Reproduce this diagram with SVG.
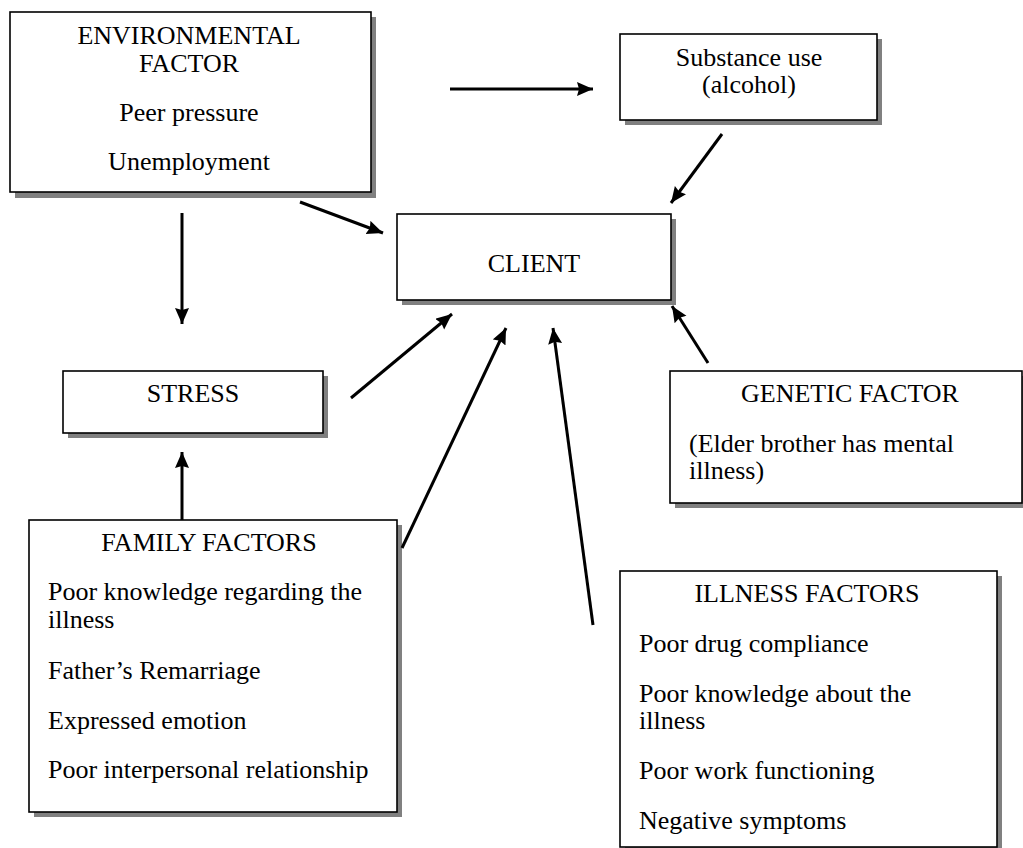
<svg xmlns="http://www.w3.org/2000/svg" width="1023" height="848" viewBox="0 0 1023 848">
<defs>
<marker id="ah" markerUnits="userSpaceOnUse" markerWidth="17" markerHeight="15" refX="16" refY="7" orient="auto">
<path d="M0,0 L16,7 L0,14 L2,7 z" fill="#000"/>
</marker>
</defs>
<style>
.sh{fill:#808080;stroke:none}
.bx{fill:#fff;stroke:#000;stroke-width:1.6}
.c{text-anchor:middle}
.cn line{stroke:#000;stroke-width:3;marker-end:url(#ah)}
</style>
<rect width="1023" height="848" fill="#fff"/>
<g font-family="Liberation Serif, Times New Roman, DejaVu Serif, serif" font-size="26" fill="#000">
<g id="environmental">
<rect class="sh" x="15" y="17" width="361" height="181"/>
<rect class="bx" x="10" y="12" width="361" height="180"/>
<text class="c" x="189" y="44">ENVIRONMENTAL</text>
<text class="c" x="189" y="72">FACTOR</text>
<text class="c" x="189" y="121">Peer pressure</text>
<text class="c" x="189" y="170">Unemployment</text>
</g>
<g id="substance">
<rect class="sh" x="625" y="39" width="257" height="86"/>
<rect class="bx" x="620" y="34" width="257" height="86"/>
<text class="c" x="749" y="66">Substance use</text>
<text class="c" x="749" y="93">(alcohol)</text>
</g>
<g id="client">
<rect class="sh" x="402" y="219" width="274" height="86"/>
<rect class="bx" x="397" y="214" width="274" height="86"/>
<text class="c" x="534" y="272">CLIENT</text>
</g>
<g id="stress">
<rect class="sh" x="68" y="376" width="260" height="62"/>
<rect class="bx" x="63" y="371" width="260" height="62"/>
<text class="c" x="193" y="402">STRESS</text>
</g>
<g id="family">
<rect class="sh" x="34" y="525" width="368" height="292"/>
<rect class="bx" x="29" y="520" width="368" height="292"/>
<text class="c" x="209" y="551">FAMILY FACTORS</text>
<text x="48" y="600">Poor knowledge regarding the</text>
<text x="48" y="628">illness</text>
<text x="48" y="679">Father’s Remarriage</text>
<text x="48" y="729">Expressed emotion</text>
<text x="48" y="778">Poor interpersonal relationship</text>
</g>
<g id="genetic">
<rect class="sh" x="675" y="376" width="352" height="132"/>
<rect class="bx" x="670" y="371" width="352" height="132"/>
<text class="c" x="850" y="402">GENETIC FACTOR</text>
<text x="689" y="452">(Elder brother has mental</text>
<text x="689" y="479">illness)</text>
</g>
<g id="illness">
<rect class="sh" x="625" y="576" width="377" height="280"/>
<rect class="bx" x="620" y="571" width="377" height="276"/>
<text class="c" x="807" y="602">ILLNESS FACTORS</text>
<text x="639" y="652">Poor drug compliance</text>
<text x="639" y="702">Poor knowledge about the</text>
<text x="639" y="729">illness</text>
<text x="639" y="779">Poor work functioning</text>
<text x="639" y="829">Negative symptoms</text>
</g>
</g>
<g id="connectors" class="cn">
<line x1="450" y1="89" x2="593" y2="89"/>
<line x1="722" y1="134" x2="671" y2="203"/>
<line x1="300" y1="202" x2="383" y2="233"/>
<line x1="182" y1="213" x2="182" y2="324"/>
<line x1="351" y1="398" x2="452" y2="314"/>
<line x1="402" y1="548" x2="506" y2="328"/>
<line x1="593" y1="625" x2="553" y2="328"/>
<line x1="708" y1="363" x2="672" y2="306"/>
<line x1="182" y1="520" x2="182" y2="452"/>
</g>
</svg>
